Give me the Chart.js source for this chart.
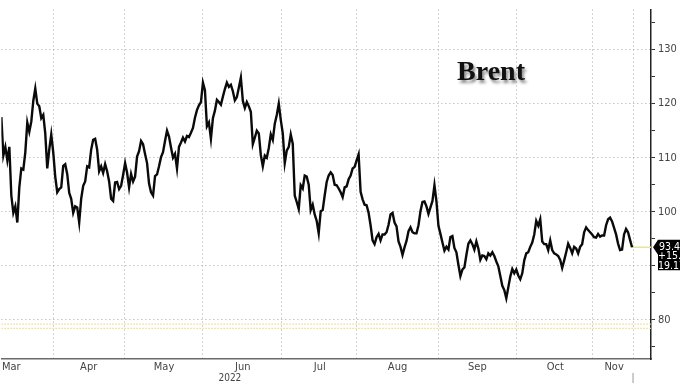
<!DOCTYPE html>
<html><head><meta charset="utf-8">
<script src="https://cdn.jsdelivr.net/npm/chart.js@4/dist/chart.umd.min.js"></script>
<style>html,body{margin:0;padding:0;background:#fff;overflow:hidden}#wrap{width:680px;height:383px;position:relative}</style>
</head><body><div id="wrap"><canvas id="c" width="680" height="383"></canvas></div>
<script>
// Brent price readings, evenly spaced in time (oldest first)
const brent = [
117.5,110.4,112.0,109.5,112.0,103.0,99.8,101.0,98.0,104.5,
108.0,107.8,111.0,116.5,114.8,116.7,120.5,122.8,120.0,119.5,
117.3,117.9,114.5,108.0,111.5,114.3,111.0,106.5,103.6,104.2,
104.5,108.5,108.8,107.0,103.5,102.4,99.8,101.0,100.8,98.0,
102.4,104.8,105.6,108.4,108.2,111.5,113.3,113.5,111.5,107.5,
108.4,107.2,108.8,107.5,105.6,102.4,102.0,105.4,105.5,104.2,
104.8,106.8,109.0,107.2,104.5,107.0,105.6,106.5,110.2,111.2,
113.1,112.5,110.7,109.0,105.2,103.6,103.0,106.6,106.9,108.4,
110.1,111.0,113.1,115.0,113.9,111.9,110.0,110.7,108.0,112.0,
112.8,113.7,113.0,114.0,113.8,114.6,115.5,117.4,118.8,119.7,
120.3,123.9,122.5,115.8,116.5,113.5,117.3,118.7,120.7,120.3,
119.8,121.3,122.7,123.9,123.1,123.5,122.3,120.6,121.2,123.0,
124.8,120.5,119.2,120.3,119.5,118.5,112.5,113.7,115.0,114.5,
110.5,108.4,110.4,110.0,111.8,114.3,113.3,116.3,117.9,120.0,
117.0,114.5,109.0,111.3,112.0,114.3,112.6,103.0,101.8,100.5,
104.9,104.3,106.7,106.5,105.0,100.3,101.3,99.5,98.3,96.0,
100.1,100.3,103.0,105.5,106.7,107.3,106.8,105.0,104.9,104.3,
103.6,102.7,104.5,104.7,106.0,106.7,108.0,108.3,109.5,110.6,
103.7,102.3,101.3,101.2,99.8,97.5,94.7,94.0,95.3,95.9,
94.7,95.8,95.8,96.2,97.6,99.5,99.8,98.0,97.3,94.5,
93.5,92.0,93.4,94.6,96.4,97.1,96.2,96.0,96.0,97.5,
100.1,101.8,101.9,101.0,99.6,100.8,102.0,104.9,101.9,97.4,
95.9,94.3,92.8,93.5,93.0,95.3,95.5,93.3,92.5,90.2,
88.1,89.3,89.7,92.0,94.1,94.7,94.0,93.0,94.5,93.2,
91.1,91.9,91.8,91.2,92.3,91.9,92.5,91.8,90.8,89.9,
88.1,86.3,85.5,84.0,86.0,88.0,89.4,88.6,89.3,88.2,
87.5,88.6,91.0,92.3,92.5,93.5,94.3,95.8,98.3,97.4,
98.6,94.5,94.0,94.0,92.9,94.7,92.9,92.3,92.1,91.8,
91.1,89.6,91.0,92.5,94.1,93.3,92.3,93.5,93.2,92.3,
93.5,94.0,96.2,97.1,96.6,96.2,95.8,95.3,95.2,95.9,
95.4,95.6,95.6,97.5,98.6,98.9,98.2,97.0,95.8,94.1,
92.9,93.0,95.8,96.8,96.2,94.8,93.43
];
// time axis (in reading index units)
const monthLabels = ['Mar','Apr','May','Jun','Jul','Aug','Sep','Oct','Nov'];
const monthLabelPos = [5,43.75,81.5,121,159.5,198.5,238.5,277.5,307];
const monthBoundaries = [26,61.5,101,140.5,178,219,258,296,316.5];
const yearLabel = '2022';
const yearLabelPos = 114.5;
const xRange = [0, 325.5];
// price axis
const yRange = [72.75, 137.4];
const yTicksMajor = [80,90,100,110,120,130];
const yTicksMinor = [75,85,95,105,115,125,135];
// last-value tag
const lastPrice = 93.43;
const netChange = '+15.03';
const pctChange = '19.17%';
// reference levels (dotted)
const refLevels = [79.2, 78.4];
const titleText = 'Brent';

const FONT = "'Liberation Sans Narrow', 'Arial Narrow', 'DejaVu Sans Condensed', Roboto, sans-serif";
const lastIdx = brent.length - 1;

const overlay = {
  id: 'overlay',
  afterDraw(chart) {
    const {ctx, chartArea, scales} = chart;
    const xs = scales.x, ys = scales.y;
    ctx.save();
    ctx.font = "bold 28px 'Liberation Serif', 'DejaVu Serif', serif";
    ctx.textAlign = 'center';
    ctx.textBaseline = 'alphabetic';
    ctx.shadowColor = 'rgba(0,0,0,0.45)';
    ctx.shadowOffsetX = 2; ctx.shadowOffsetY = 3; ctx.shadowBlur = 3;
    ctx.fillStyle = '#111';
    ctx.fillText(titleText, 491, 80);
    ctx.restore();

    ctx.save();
    ctx.font = '10px ' + FONT;
    ctx.fillStyle = '#444';
    ctx.textAlign = 'center';
    ctx.textBaseline = 'middle';
    ctx.fillText(yearLabel, xs.getPixelForValue(yearLabelPos), 378);
    const xl = xs.getPixelForValue(monthBoundaries[monthBoundaries.length-1]);
    ctx.strokeStyle = '#aaa'; ctx.lineWidth = 1.2;
    ctx.beginPath(); ctx.moveTo(xl, chartArea.bottom + 14); ctx.lineTo(xl, 383); ctx.stroke();
    const y = ys.getPixelForValue(lastPrice);
    const x0 = chartArea.right + 2;
    ctx.fillStyle = '#000';
    ctx.beginPath();
    ctx.moveTo(x0, y);
    ctx.lineTo(x0 + 5, y - 7.5);
    ctx.lineTo(690, y - 7.5);
    ctx.lineTo(690, y + 23);
    ctx.lineTo(x0 + 5, y + 23);
    ctx.lineTo(x0 + 5, y + 7.5);
    ctx.closePath();
    ctx.fill();
    ctx.fillStyle = '#fff';
    ctx.font = '10.5px ' + FONT;
    ctx.textAlign = 'left';
    ctx.textBaseline = 'middle';
    ctx.fillText(lastPrice.toFixed(2), x0 + 6, y);
    ctx.fillText(netChange, x0 + 5, y + 9.5);
    ctx.fillText(pctChange, x0 + 5, y + 19);
    ctx.restore();
  }
};

new Chart(document.getElementById('c'), {
  type: 'line',
  data: {
    datasets: [
      {
        label: 'Brent',
        data: brent.map((v, i) => ({x: i, y: v})),
        borderColor: '#0a0a0a',
        borderWidth: 2.4,
        pointRadius: 0,
        tension: 0,
        order: 0
      },
      {
        label: 'last',
        data: [{x: lastIdx, y: lastPrice}, {x: xRange[1], y: lastPrice}],
        borderColor: '#e4e49c',
        borderWidth: 1.5,
        pointRadius: 0,
        order: 1
      },
      {
        label: 'ref1',
        data: [{x: xRange[0], y: refLevels[0]}, {x: xRange[1], y: refLevels[0]}],
        borderColor: '#efd98a',
        borderWidth: 1.2,
        borderDash: [1.5, 1.5],
        pointRadius: 0,
        order: 2
      },
      {
        label: 'ref2',
        data: [{x: xRange[0], y: refLevels[1]}, {x: xRange[1], y: refLevels[1]}],
        borderColor: '#e9df86',
        borderWidth: 1.2,
        borderDash: [1.5, 1.5],
        pointRadius: 0,
        order: 3
      }
    ]
  },
  options: {
    responsive: false,
    animation: false,
    devicePixelRatio: 1,
    layout: {padding: 0},
    plugins: {legend: {display: false}, tooltip: {enabled: false}},
    scales: {
      x: {
        type: 'linear',
        min: xRange[0],
        max: xRange[1],
        afterBuildTicks(s) {
          s.ticks = monthBoundaries.concat(monthLabelPos).sort((a, b) => a - b).map(v => ({value: v}));
        },
        afterFit(s) { s.height = 24; },
        ticks: {
          autoSkip: false,
          maxRotation: 0,
          padding: 2,
          color: '#444',
          font: {family: FONT, size: 11},
          callback(v) {
            const k = monthLabelPos.indexOf(v);
            return k >= 0 ? monthLabels[k] : '';
          }
        },
        grid: {
          drawTicks: false,
          lineWidth: 1,
          color(ctx) {
            return ctx.tick && monthBoundaries.includes(ctx.tick.value) ? '#a8a8a8' : 'rgba(0,0,0,0)';
          }
        },
        border: {display: true, color: '#6a6a6a', width: 1.5, dash: [1, 3]}
      },
      y: {
        type: 'linear',
        position: 'right',
        min: yRange[0],
        max: yRange[1],
        afterBuildTicks(s) {
          s.ticks = yTicksMajor.concat(yTicksMinor).sort((a, b) => a - b).map(v => ({value: v}));
        },
        afterFit(s) { s.width = 29; },
        ticks: {
          padding: 3,
          color: '#444',
          font: {family: FONT, size: 11},
          callback(v) { return yTicksMajor.includes(v) ? String(v) : ''; }
        },
        grid: {
          drawTicks: true,
          tickLength: 4,
          tickColor: '#333',
          tickWidth: 1,
          tickBorderDash: [],
          lineWidth: 1,
          color(ctx) {
            return ctx.tick && yTicksMajor.includes(ctx.tick.value) ? '#a8a8a8' : 'rgba(0,0,0,0)';
          }
        },
        border: {display: true, color: '#222', width: 1.5, dash: [1, 3]}
      }
    }
  },
  plugins: [overlay]
});
</script>
</body></html>
